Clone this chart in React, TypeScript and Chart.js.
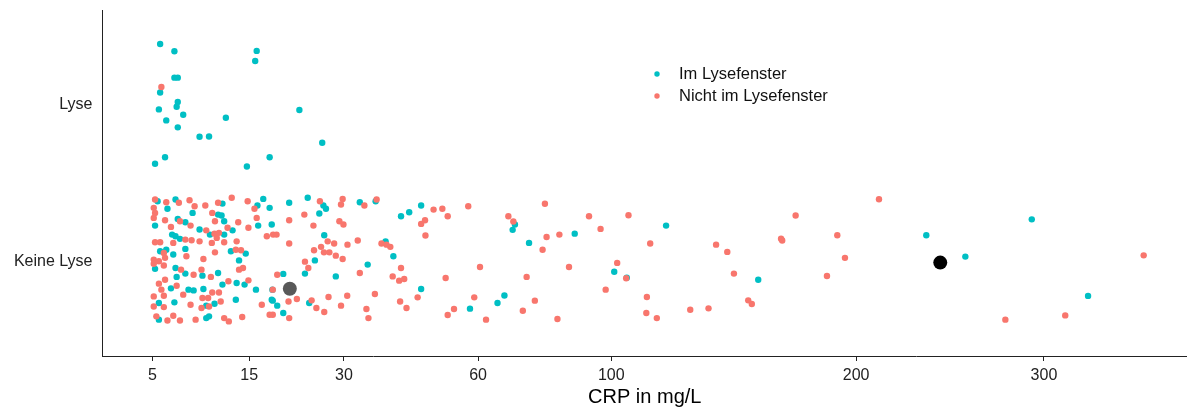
import React, { useEffect, useRef } from "react";
import { Chart, registerables, LinearScale } from "chart.js";

Chart.register(...registerables);

// ---------- data ----------
const yCategories = ["Keine Lyse", "Lyse"];
const xTickValues = [5, 15, 30, 60, 100, 200, 300];
const xTitle = "CRP in mg/L";
const seriesLabels = ["Im Lysefenster", "Nicht im Lysefenster"];
const seriesColors = ["#00BFC4", "#F8766D"];

// Im Lysefenster (teal): CRP and jittered category position
const imCrp = [
  5.6, 6.8, 16.0, 15.8, 6.8, 7.1, 5.6, 7.1, 7.0, 5.5, 22.3, 7.6, 6.1, 12.1, 7.1, 9.2, 10.2, 26.1, 6.0, 17.8, 5.2, 14.7,
  5.4, 6.9, 6.2, 8.5, 7.1, 7.8, 5.2, 9.2, 6.6, 6.9, 7.3, 5.6, 6.1, 6.7, 7.8, 5.2, 6.9, 7.8, 9.5, 7.0, 6.5, 8.1, 8.6,
  9.6, 5.5, 6.8, 9.9, 5.5, 9.9, 11.7, 16.9, 16.1, 17.8, 11.2, 11.6, 11.9, 16.2, 18.1, 10.3, 11.9, 12.9, 12.7, 14.55,
  13.7, 11.2, 11.7, 13.4, 14.4, 15.9, 18.2, 13.3, 10.8, 18.1, 10.2, 20.7, 23.65, 26.3, 26.75, 25.6, 26.45, 24.85, 23.2,
  19.8, 28.5, 23.9, 18.25, 18.9, 19.8, 33.0, 36.15, 41.5, 43.3, 46.0, 38.2, 39.85, 34.55, 46.0, 70.05, 69.4, 74.1,
  67.1, 65.2, 57.9, 88.0, 119.4, 101.0, 105.3, 155.9, 235.0, 255.7, 292.9, 326.4,
];
const imY = [
  2.384, 2.338, 2.34, 2.276, 2.17, 2.17, 2.075, 2.015, 1.985, 1.968, 1.964, 1.934, 1.898, 1.915, 1.854, 1.794, 1.796,
  1.756, 1.664, 1.664, 1.622, 1.605,
  1.384, 1.395, 1.336, 1.31, 1.271, 1.25, 1.229, 1.204, 1.172, 1.161, 1.145, 1.066, 1.076, 1.045, 1.081, 0.954, 0.96,
  0.924, 0.911, 0.903, 0.83, 0.822, 0.817, 0.826, 0.737, 0.741, 0.72, 0.631, 0.641, 1.369, 1.399, 1.357, 1.342, 1.299,
  1.293, 1.257, 1.229, 1.236, 1.172, 1.172, 1.199, 1.066, 1.051, 1.008, 0.928, 0.854, 0.864, 0.854, 0.822, 0.822,
  0.758, 0.732, 0.758, 0.652, 1.374, 1.406, 1.357, 1.336, 1.306, 1.168, 1.008, 0.924, 0.922, 0.906, 0.737, 0.752,
  0.72, 0.673, 1.378, 1.384, 1.289, 1.314, 1.357, 1.129, 1.034, 0.981, 0.826, 1.236, 1.202, 1.119, 0.785, 0.737,
  0.701, 1.178, 1.229, 0.936, 0.898, 0.885, 1.168, 1.032, 1.269, 0.782,
];

// Nicht im Lysefenster (salmon)
const nichtCrp = [
  5.7,
  5.2, 6.1, 7.2, 8.2, 9.8, 5.1, 8.7, 5.2, 5.1, 6.0, 7.3, 6.5, 8.3, 9.9, 7.8, 8.4, 9.2, 5.2, 5.6, 6.7, 5.9, 7.9, 9.6,
  5.1, 5.5, 6.0, 5.1, 5.9, 7.4, 8.6, 9.4, 6.0, 5.5, 7.0, 5.7, 5.1, 5.9, 7.6, 9.5, 5.1, 5.9, 8.3, 9.4, 5.3, 6.2, 6.7,
  7.3, 8.8, 11.2, 12.8, 14.8, 15.7, 10.55, 10.85, 13.6, 16.0, 14.9, 10.8, 11.3, 12.3, 10.5, 11.05, 11.9, 13.4, 17.4,
  18.3, 10.85, 13.3, 13.95, 13.7, 14.2, 10.4, 12.4, 14.9, 10.55, 11.3, 10.1, 11.5, 10.2, 16.7, 17.8, 11.9, 12.45,
  14.1, 25.7, 29.75, 29.45, 23.1, 20.7, 24.6, 29.15, 29.9, 18.8, 20.7, 27.05, 28.2, 25.9, 24.7, 26.4, 27.35, 28.5,
  29.75, 30.65, 23.2, 23.75, 18.9, 18.25, 20.6, 21.9, 24.3, 27.2, 30.6, 25.1, 26.45, 29.45, 18.25, 20.7, 33.9, 36.35,
  48.9, 46.9, 46.0, 47.0, 32.6, 37.35, 38.4, 39.2, 33.0, 41.5, 39.7, 41.1, 42.2, 36.0, 45.2, 41.3, 42.7, 34.3, 34.7,
  51.0, 52.3, 57.45, 78.8, 68.2, 69.6, 79.3, 83.2, 78.1, 60.5, 51.8, 73.4, 59.0, 75.8, 53.85, 52.3, 72.3, 62.1, 82.6,
  92.6, 96.4, 105.9, 113.6, 138.6, 143.1, 86.2, 102.0, 105.1, 145.8, 98.1, 112.4, 151.7, 153.2, 112.2, 116.0, 128.5,
  135.6, 211.1, 172.1, 165.7, 166.2, 191.1, 194.7, 186.3, 361.3, 277.8, 312.6,
];
const nichtY = [
  2.11,
  1.395, 1.378, 1.374, 1.39, 1.357, 1.342, 1.352, 1.31, 1.278, 1.263, 1.257, 1.221, 1.229, 1.199, 1.14, 1.136, 1.129,
  1.123, 1.123, 1.119, 1.055, 1.034, 1.017, 1.013, 1.002, 1.024, 0.987, 0.975, 0.949, 0.917, 0.949, 0.885, 0.86, 0.847,
  0.822, 0.779, 0.783, 0.79, 0.769, 0.715, 0.711, 0.726, 0.705, 0.652, 0.626, 0.656, 0.626, 0.631, 1.374, 1.406,
  1.384, 1.336, 1.31, 1.257, 1.25, 1.278, 1.215, 1.178, 1.183, 1.215, 1.119, 1.151, 1.123, 1.129, 1.161, 1.172, 1.059,
  1.076, 1.072, 0.949, 0.96, 0.903, 0.875, 0.881, 0.804, 0.804, 0.769, 0.747, 0.715, 0.726, 0.662, 0.641, 0.62, 0.648,
  1.384, 1.399, 1.363, 1.299, 1.263, 1.229, 1.257, 1.236, 1.172, 1.115, 1.129, 1.115, 1.094, 1.072, 1.059, 1.059,
  1.038, 1.017, 1.108, 1.0, 0.96, 0.917, 0.822, 0.747, 0.762, 0.754, 0.775, 0.783, 0.705, 0.68, 0.72, 0.662, 0.641,
  1.357, 1.395, 1.331, 1.263, 1.24, 1.166, 1.134, 1.115, 1.108, 1.094, 0.928, 0.96, 0.906, 0.879, 0.89, 0.794, 0.773,
  0.747, 0.705, 0.699, 0.641, 1.336, 1.289, 1.352, 1.368, 1.289, 1.255, 1.157, 1.172, 1.076, 0.966, 0.896, 0.903,
  0.773, 0.752, 0.699, 0.661, 0.688, 0.631, 0.635, 1.289, 1.208, 1.295, 1.115, 1.108, 1.062, 0.966, 0.992, 0.894,
  0.924, 0.822, 0.775, 0.754, 0.731, 0.673, 0.641, 0.694, 0.703, 1.397, 1.293, 1.146, 1.134, 1.168, 1.024, 0.909,
  1.04, 0.631, 0.658,
];

// summary points (large markers)
const summaryCrp = [20.8, 242.3];
const summaryY = [0.828, 0.994];
const summaryColors = ["#595959", "#000000"];

// ---------- sqrt scale ----------
class SqrtScale extends LinearScale {
  static id = "sqrt";
  static defaults = { ...(LinearScale as any).defaults };
  getPixelForValue(value: number) {
    const a = Math.sqrt((this as any).min);
    const b = Math.sqrt((this as any).max);
    return (this as any).getPixelForDecimal((Math.sqrt(value) - a) / (b - a));
  }
  getValueForPixel(pixel: number) {
    const a = Math.sqrt((this as any).min);
    const b = Math.sqrt((this as any).max);
    const s = a + (this as any).getDecimalForPixel(pixel) * (b - a);
    return s * s;
  }
}
Chart.register(SqrtScale as any);

const FONT = '"Liberation Sans", Arial, Helvetica, sans-serif';

const insideLegend = {
  id: "insideLegend",
  afterDraw(chart: any) {
    const ctx = chart.ctx;
    ctx.save();
    ctx.font = `16.5px ${FONT}`;
    ctx.textBaseline = "middle";
    ctx.textAlign = "left";
    seriesLabels.forEach((label, i) => {
      const y = 74 + i * 22;
      ctx.beginPath();
      ctx.arc(657, y, 2.7, 0, Math.PI * 2);
      ctx.fillStyle = seriesColors[i];
      ctx.fill();
      ctx.fillStyle = "#111";
      ctx.fillText(label, 679, y + 0.5);
    });
    ctx.restore();
  },
};

export default function App() {
  const ref = useRef<HTMLCanvasElement | null>(null);
  useEffect(() => {
    if (!ref.current) return;
    const toPts = (xs: number[], ys: number[]) => xs.map((x, i) => ({ x, y: ys[i] }));
    const chart = new Chart(ref.current, {
      type: "scatter",
      data: {
        datasets: [
          {
            label: "summary",
            data: toPts(summaryCrp, summaryY),
            backgroundColor: summaryColors,
            pointRadius: 7,
            pointBorderWidth: 0,
          },
          {
            label: seriesLabels[1],
            data: toPts(nichtCrp, nichtY),
            backgroundColor: seriesColors[1],
            pointRadius: 3.2,
            pointBorderWidth: 0,
          },
          {
            label: seriesLabels[0],
            data: toPts(imCrp, imY),
            backgroundColor: seriesColors[0],
            pointRadius: 3.2,
            pointBorderWidth: 0,
          },
        ],
      },
      options: {
        animation: false,
        responsive: false,
        devicePixelRatio: 1,
        events: [],
        layout: { autoPadding: false, padding: { top: 10, right: 0, bottom: 0, left: 0 } },
        plugins: { legend: { display: false }, tooltip: { enabled: false } },
        scales: {
          x: {
            type: "sqrt" as any,
            min: 1.935,
            max: 389.7,
            afterBuildTicks: (s: any) => {
              s.ticks = xTickValues.map((v) => ({ value: v }));
            },
            afterFit: (s: any) => {
              s.height = 51;
              s.paddingLeft = 0;
              s.paddingRight = 0;
            },
            ticks: {
              autoSkip: false,
              maxRotation: 0,
              padding: 5,
              color: "#222",
              font: { family: FONT, size: 16 },
              callback: (v: any) => String(v),
            },
            grid: { display: true, drawOnChartArea: false, drawTicks: true, tickLength: 5, color: "#222", lineWidth: 1 },
            border: { display: true, color: "#222", width: 1 },
            title: {
              display: true,
              text: xTitle,
              color: "#000",
              font: { family: FONT, size: 20, lineHeight: 1 },
              padding: { top: 0, bottom: 0 },
            },
          },
          y: {
            type: "linear",
            min: 0.4,
            max: 2.6,
            afterBuildTicks: (s: any) => {
              s.ticks = [{ value: 1 }, { value: 2 }];
            },
            afterFit: (s: any) => {
              s.width = 102.5;
              s.paddingTop = 0;
              s.paddingBottom = 0;
            },
            ticks: {
              padding: 10,
              color: "#222",
              font: { family: FONT, size: 16 },
              callback: (v: any) => yCategories[Math.round(v) - 1] ?? "",
            },
            grid: { display: false, drawTicks: false },
            border: { display: true, color: "#222", width: 1 },
          },
        },
      },
      plugins: [insideLegend],
    });
    return () => chart.destroy();
  }, []);
  return (
    <div style={{ position: "absolute", left: 0, top: 0, width: 1187, height: 407 }}>
      <canvas ref={ref} width={1187} height={407} style={{ width: 1187, height: 407, display: "block" }} />
    </div>
  );
}
